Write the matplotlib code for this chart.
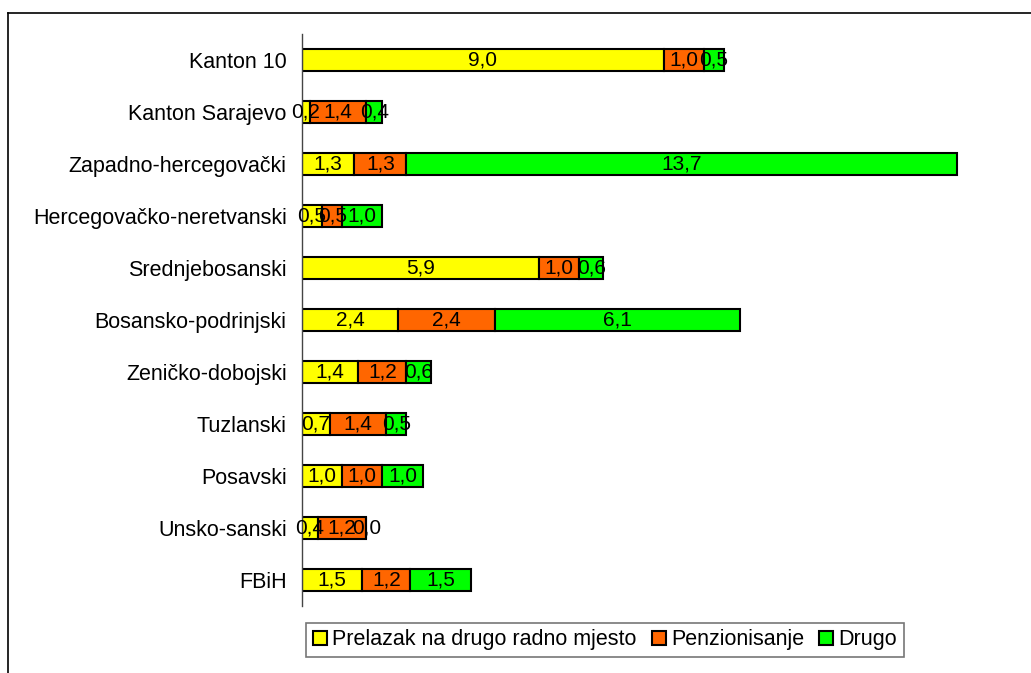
import matplotlib.pyplot as plt
from matplotlib.patches import Patch
from matplotlib.lines import Line2D

plt.rcParams['font.family'] = ['Liberation Sans', 'DejaVu Sans']

categories = ["Kanton 10", "Kanton Sarajevo", "Zapadno-hercegovački",
              "Hercegovačko-neretvanski", "Srednjebosanski", "Bosansko-podrinjski",
              "Zeničko-dobojski", "Tuzlanski", "Posavski", "Unsko-sanski", "FBiH"]
prelazak = [9.0, 0.2, 1.3, 0.5, 5.9, 2.4, 1.4, 0.7, 1.0, 0.4, 1.5]
penzionisanje = [1.0, 1.4, 1.3, 0.5, 1.0, 2.4, 1.2, 1.4, 1.0, 1.2, 1.2]
drugo = [0.5, 0.4, 13.7, 1.0, 0.6, 6.1, 0.6, 0.5, 1.0, 0.0, 1.5]

series_names = ["Prelazak na drugo radno mjesto", "Penzionisanje", "Drugo"]
colors = ["#FFFF00", "#FF6600", "#00FF00"]

fig = plt.figure(figsize=(10.31, 6.73), dpi=100)
ax = fig.add_axes([302 / 1031, 1 - 606 / 673, (1005 - 302) / 1031, (606 - 34) / 673])

# outer frame (only top and left visible in the original)
fig.add_artist(Line2D([8 / 1031, 1.0], [1 - 13 / 673] * 2, color="black", lw=1.2, transform=fig.transFigure))
fig.add_artist(Line2D([8 / 1031] * 2, [0.0, 1 - 13 / 673], color="black", lw=1.2, transform=fig.transFigure))

y = list(range(len(categories)))
left = [0.0] * len(categories)
for values, color in zip([prelazak, penzionisanje, drugo], colors):
    ax.barh(y, values, left=left, height=0.43, color=color, edgecolor="black", linewidth=1.5)
    for yi, l, v in zip(y, left, values):
        ax.text(l + v / 2, yi, f"{v:.1f}".replace(".", ","), ha="center", va="center", fontsize=15)
    left = [a + b for a, b in zip(left, values)]

ax.set_yticks(y)
ax.set_yticklabels(categories, fontsize=15.5)
ax.set_ylim(len(categories) - 0.5, -0.5)
ax.set_xlim(0, 17.5)
ax.set_xticks([])
ax.tick_params(axis="y", length=0, pad=11)
for side in ["top", "right", "bottom"]:
    ax.spines[side].set_visible(False)
ax.spines["left"].set_color("#444444")
ax.spines["left"].set_linewidth(1.0)

handles = [Patch(facecolor=c, edgecolor="black", linewidth=1.5) for c in colors]
leg = fig.legend(handles, series_names, loc="center", bbox_to_anchor=(605 / 1031, 1 - 640 / 673),
                 ncol=3, fontsize=15.5, frameon=True, fancybox=False, handlelength=0.65,
                 handleheight=0.65, handletextpad=0.25, columnspacing=0.7, borderpad=0.3,
                 borderaxespad=0)
leg.get_frame().set_edgecolor("#555555")
leg.get_frame().set_linewidth(1.2)

fig.savefig("out.png", dpi=100)
